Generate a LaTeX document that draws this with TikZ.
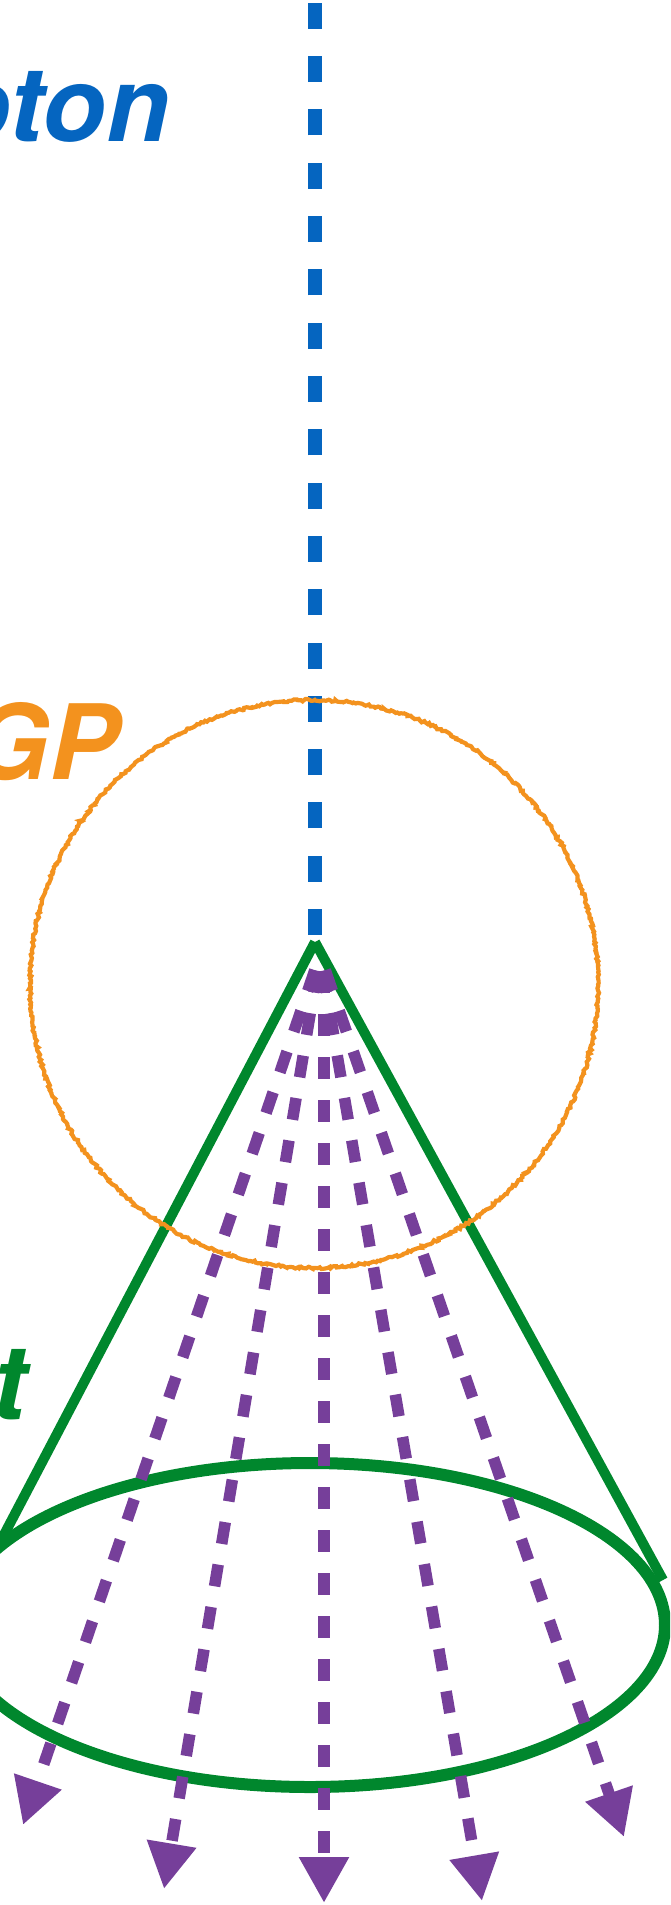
\documentclass[tikz,border=0pt]{standalone}
\usepackage{fontspec}
\newfontfamily\heros{TeX Gyre Heros}
\usetikzlibrary{arrows.meta,decorations.pathmorphing}
\definecolor{photonblue}{HTML}{0565C0}
\definecolor{qgporange}{HTML}{F3921E}
\definecolor{jetgreen}{HTML}{00872D}
\definecolor{partpurple}{HTML}{763F9A}
\begin{document}
\begin{tikzpicture}[x=1pt,y=-1pt,
  lbl/.style={inner sep=0pt, anchor=base east, font=\heros\bfseries\itshape\fontsize{104}{104}\selectfont},
  photonline/.style={photonblue, line width=14pt, dash pattern=on 26pt off 27.3pt},
  conestyle/.style={jetgreen, line width=10pt},
  rimstyle/.style={jetgreen, line width=12pt},
  qgpstyle/.style={qgporange, line width=4.2pt, decorate, decoration={random steps, segment length=2pt, amplitude=1.2pt}},
  partarrow/.style={partpurple, line width=11.5pt, dash pattern=on 22pt off 21pt, dash phase=27pt, -{Triangle[length=46pt,width=47pt]}}
]
\pgfmathsetseed{7}
\useasboundingbox (0,0) rectangle (670,1905);
\clip (0,0) rectangle (670,1905);
% photon
\coordinate (ptop) at (315,-30);
\coordinate (pbot) at (315,935);
\draw[photonline] (pbot) -- (ptop);
% jet cone
\coordinate (apex) at (315,942);
\coordinate (cleft) at (-4,1550);
\coordinate (cright) at (663,1580);
\draw[conestyle] (apex) -- (cleft);
\draw[conestyle] (apex) -- (cright);
\draw[rimstyle] (310,1625) ellipse [x radius=355, y radius=162];
% QGP
\draw[qgpstyle] (314,984) circle [radius=284];
% particles
\coordinate (s0) at (320,955);
\coordinate (s3) at (324,955);
\coordinate (t1) at (23,1825);
\coordinate (t2) at (164,1889);
\coordinate (t3) at (324,1903);
\coordinate (t4) at (482,1901);
\coordinate (t5) at (624,1837);
\draw[partarrow] (s0) -- (t1);
\draw[partarrow] (s0) -- (t2);
\draw[partarrow] (s3) -- (t3);
\draw[partarrow] (s0) -- (t4);
\draw[partarrow] (s0) -- (t5);
% labels
\node[lbl, text=photonblue] (photonlbl) at (170,142) {oton};
\node[lbl, text=qgporange] (qgplbl) at (119,779) {GP};
\node[lbl, text=jetgreen] (jetlbl) at (27,1419) {t};
\end{tikzpicture}
\end{document}
